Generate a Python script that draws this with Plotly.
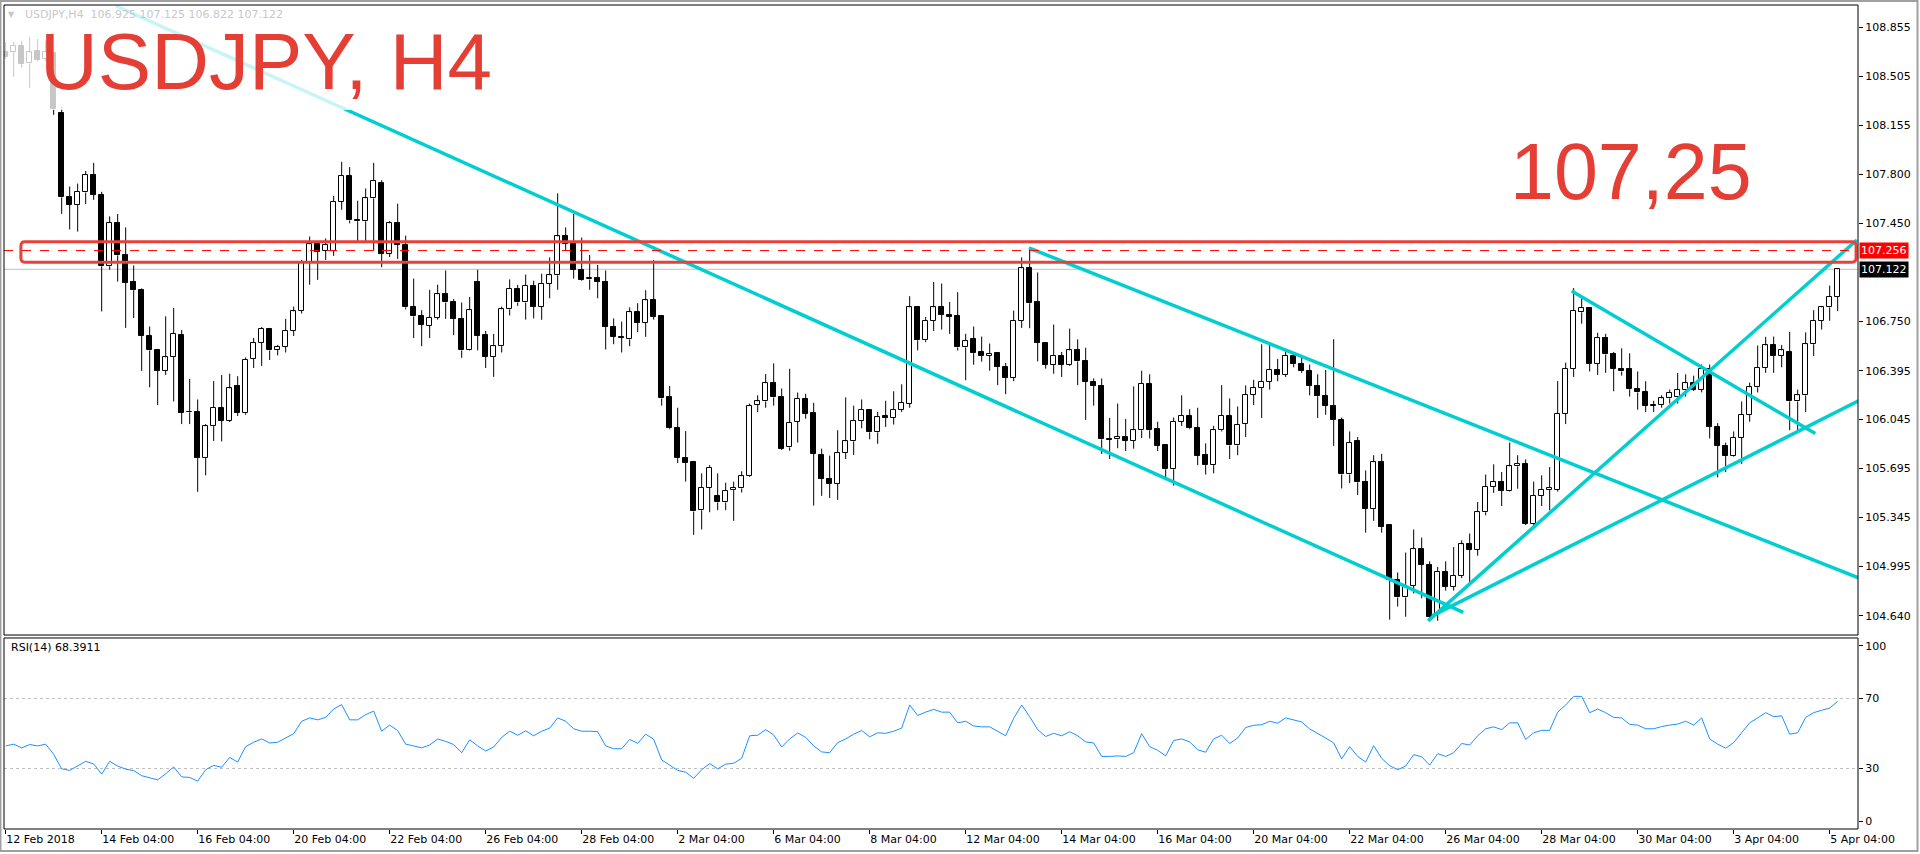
import plotly.graph_objects as go

# USDJPY H4, 12 Feb - 5 Apr 2018 (bar index 0..229)
opens = [
    108.680, 108.677, 108.720, 108.596, 108.685, 108.626, 108.669, 108.244, 107.642, 107.584,
    107.672, 107.798, 107.655, 107.143, 107.457, 107.222, 107.034, 106.972, 106.644, 106.541,
    106.395, 106.497, 106.653, 106.103, 106.100, 105.769, 105.998, 106.130, 106.036, 106.286,
    106.092, 106.480, 106.597, 106.697, 106.545, 106.566, 106.682, 106.826, 107.172, 107.301,
    107.255, 107.255, 107.604, 107.789, 107.475, 107.466, 107.630, 107.739, 107.231, 107.451,
    107.298, 106.849, 106.785, 106.717, 106.776, 106.943, 106.884, 106.767, 106.547, 107.031,
    106.650, 106.497, 106.571, 106.835, 106.981, 106.884, 107.005, 106.855, 107.020, 107.079,
    107.357, 107.304, 107.119, 107.049, 107.063, 107.034, 106.712, 106.640, 106.620, 106.814,
    106.737, 106.899, 106.785, 106.204, 105.983, 105.771, 105.740, 105.396, 105.558, 105.499,
    105.452, 105.540, 105.552, 105.640, 106.151, 106.175, 106.306, 106.204, 105.846, 106.028,
    106.195, 106.092, 105.793, 105.622, 105.587, 105.807, 105.889, 106.036, 106.116, 105.954,
    106.070, 106.057, 106.116, 106.160, 106.849, 106.614, 106.753, 106.849, 106.796, 106.785,
    106.562, 106.621, 106.526, 106.503, 106.521, 106.424, 106.344, 106.753, 107.129, 106.884,
    106.594, 106.438, 106.503, 106.438, 106.541, 106.462, 106.315, 106.286, 105.906, 105.904,
    105.921, 105.892, 105.969, 106.301, 105.978, 105.866, 105.690, 106.028, 106.071, 105.983,
    105.793, 105.719, 105.969, 106.071, 105.860, 106.013, 106.224, 106.271, 106.315, 106.400,
    106.365, 106.503, 106.444, 106.395, 106.286, 106.213, 106.145, 106.043, 105.652, 105.889,
    105.596, 105.405, 105.740, 105.288, 104.897, 104.771, 104.853, 105.117, 105.005, 104.654,
    104.956, 104.847, 104.926, 105.152, 105.112, 105.382, 105.564, 105.601, 105.537, 105.710,
    105.725, 105.299, 105.499, 105.543, 105.543, 106.087, 106.409, 106.814, 106.844, 106.444,
    106.629, 106.512, 106.409, 106.409, 106.263, 106.240, 106.145, 106.151, 106.197, 106.210,
    106.257, 106.306, 106.257, 106.409, 105.993, 105.857, 105.787, 105.916, 106.081, 106.277,
    106.415, 106.576, 106.503, 106.530, 106.175, 106.219, 106.585, 106.753, 106.849, 106.925,
]
highs = [
    108.750, 108.750, 108.758, 108.787, 108.772, 108.760, 108.675, 108.282, 107.715, 107.736,
    107.826, 107.884, 107.677, 107.501, 107.518, 107.422, 107.149, 106.985, 106.712, 106.545,
    106.785, 106.844, 106.687, 106.336, 106.189, 106.013, 106.321, 106.365, 106.374, 106.356,
    106.491, 106.630, 106.709, 106.702, 106.580, 106.767, 106.855, 107.189, 107.357, 107.310,
    107.343, 107.647, 107.892, 107.854, 107.613, 107.701, 107.884, 107.760, 107.468, 107.592,
    107.363, 107.055, 106.829, 106.975, 107.011, 107.114, 106.908, 106.884, 106.924, 107.119,
    106.680, 106.659, 106.855, 107.049, 107.010, 107.084, 107.040, 107.090, 107.207, 107.666,
    107.422, 107.518, 107.349, 107.225, 107.153, 107.114, 106.770, 106.747, 106.849, 106.879,
    106.972, 107.187, 106.790, 106.286, 106.130, 105.963, 105.740, 105.660, 105.719, 105.660,
    105.593, 105.601, 105.675, 106.160, 106.219, 106.371, 106.448, 106.268, 106.409, 106.239,
    106.230, 106.165, 105.837, 105.787, 105.969, 106.204, 106.145, 106.189, 106.120, 106.100,
    106.180, 106.248, 106.298, 106.929, 106.850, 106.780, 107.031, 107.020, 106.888, 106.958,
    106.660, 106.712, 106.640, 106.590, 106.530, 106.450, 106.826, 107.207, 107.275, 107.099,
    106.600, 106.726, 106.530, 106.697, 106.620, 106.560, 106.340, 106.340, 106.057, 106.160,
    106.050, 106.283, 106.395, 106.370, 106.030, 105.870, 106.060, 106.219, 106.120, 106.130,
    105.875, 106.000, 106.292, 106.197, 106.139, 106.290, 106.330, 106.585, 106.585, 106.480,
    106.541, 106.530, 106.490, 106.440, 106.370, 106.400, 106.621, 106.060, 105.960, 105.920,
    105.681, 105.790, 105.800, 105.290, 104.950, 105.093, 105.258, 105.200, 105.030, 104.990,
    105.030, 105.132, 105.180, 105.229, 105.455, 105.652, 105.725, 105.670, 105.881, 105.790,
    105.760, 105.601, 105.646, 105.705, 106.321, 106.453, 106.987, 106.914, 106.850, 106.667,
    106.660, 106.530, 106.556, 106.520, 106.390, 106.320, 106.180, 106.220, 106.260, 106.379,
    106.370, 106.360, 106.440, 106.440, 106.020, 105.880, 105.960, 106.175, 106.310, 106.576,
    106.638, 106.640, 106.580, 106.673, 106.260, 106.670, 106.829, 106.860, 107.005, 107.125,
]
lows = [
    108.630, 108.500, 108.567, 108.421, 108.611, 108.610, 108.228, 107.519, 107.407, 107.392,
    107.590, 107.619, 106.820, 107.119, 107.034, 106.702, 106.773, 106.394, 106.277, 106.150,
    106.365, 106.175, 106.013, 106.013, 105.528, 105.646, 105.892, 105.889, 106.028, 106.071,
    106.080, 106.415, 106.430, 106.472, 106.505, 106.526, 106.644, 106.805, 107.011, 107.046,
    107.189, 107.218, 107.548, 107.451, 107.319, 107.319, 107.255, 107.137, 107.210, 107.196,
    106.835, 106.629, 106.571, 106.629, 106.761, 106.767, 106.650, 106.488, 106.541, 106.541,
    106.415, 106.351, 106.526, 106.791, 106.860, 106.761, 106.770, 106.760, 106.914, 106.975,
    107.255, 107.055, 107.040, 106.975, 106.914, 106.547, 106.585, 106.526, 106.571, 106.673,
    106.638, 106.761, 106.145, 105.975, 105.734, 105.601, 105.220, 105.258, 105.382, 105.396,
    105.396, 105.320, 105.523, 105.635, 106.100, 106.130, 106.145, 105.828, 105.822, 105.881,
    106.051, 105.429, 105.499, 105.484, 105.470, 105.763, 105.792, 105.983, 105.904, 105.872,
    105.993, 106.010, 106.100, 106.130, 106.541, 106.600, 106.680, 106.690, 106.659, 106.540,
    106.327, 106.438, 106.460, 106.395, 106.292, 106.227, 106.320, 106.702, 106.700, 106.462,
    106.410, 106.374, 106.350, 106.430, 106.292, 106.043, 106.145, 105.799, 105.763, 105.840,
    105.820, 105.837, 105.913, 105.910, 105.820, 105.616, 105.572, 106.000, 105.975, 105.719,
    105.652, 105.660, 105.960, 105.763, 105.790, 105.920, 106.150, 106.057, 106.260, 106.320,
    106.350, 106.420, 106.380, 106.219, 106.057, 106.080, 105.857, 105.552, 105.590, 105.505,
    105.235, 105.320, 105.235, 104.612, 104.706, 104.633, 104.800, 104.765, 104.610, 104.604,
    104.820, 104.820, 104.910, 104.882, 105.070, 105.360, 105.520, 105.426, 105.530, 105.550,
    105.290, 105.290, 105.426, 105.396, 105.530, 106.013, 106.350, 106.732, 106.390, 106.365,
    106.380, 106.248, 106.360, 106.210, 106.116, 106.100, 106.100, 106.130, 106.160, 106.160,
    106.210, 106.250, 106.240, 105.910, 105.631, 105.669, 105.780, 105.728, 106.030, 106.240,
    106.380, 106.380, 106.420, 105.969, 105.970, 106.100, 106.500, 106.690, 106.753, 106.822,
]
closes = [
    108.640, 108.722, 108.591, 108.675, 108.623, 108.675, 108.273, 107.637, 107.584, 107.677,
    107.798, 107.655, 107.143, 107.457, 107.222, 107.026, 106.972, 106.644, 106.541, 106.395,
    106.491, 106.659, 106.092, 106.098, 105.769, 105.998, 106.130, 106.036, 106.268, 106.092,
    106.474, 106.597, 106.697, 106.541, 106.566, 106.682, 106.820, 107.172, 107.301, 107.249,
    107.298, 107.604, 107.789, 107.472, 107.466, 107.630, 107.754, 107.231, 107.451, 107.298,
    106.849, 106.785, 106.726, 106.776, 106.943, 106.884, 106.767, 106.541, 106.829, 106.644,
    106.497, 106.571, 106.835, 106.981, 106.884, 107.005, 106.855, 107.020, 107.079, 107.357,
    107.304, 107.119, 107.046, 107.063, 107.034, 106.709, 106.638, 106.630, 106.814, 106.737,
    106.899, 106.782, 106.197, 105.983, 105.769, 105.734, 105.387, 105.558, 105.699, 105.452,
    105.534, 105.558, 105.640, 106.145, 106.175, 106.306, 106.204, 105.837, 106.021, 106.195,
    106.087, 105.799, 105.622, 105.587, 105.807, 105.889, 106.036, 106.116, 105.954, 106.063,
    106.057, 106.116, 106.165, 106.849, 106.614, 106.753, 106.849, 106.796, 106.782, 106.562,
    106.609, 106.521, 106.503, 106.518, 106.424, 106.344, 106.753, 107.129, 106.879, 106.594,
    106.438, 106.503, 106.438, 106.541, 106.462, 106.315, 106.286, 105.904, 105.902, 105.921,
    105.892, 105.969, 106.301, 105.969, 105.857, 105.690, 106.028, 106.071, 105.983, 105.787,
    105.719, 105.969, 106.071, 105.860, 106.007, 106.224, 106.271, 106.315, 106.400, 106.365,
    106.503, 106.444, 106.395, 106.286, 106.213, 106.145, 106.043, 105.652, 105.881, 105.596,
    105.405, 105.740, 105.279, 104.897, 104.771, 104.847, 105.117, 105.005, 104.633, 104.956,
    104.847, 104.926, 105.152, 105.112, 105.382, 105.564, 105.601, 105.537, 105.710, 105.727,
    105.299, 105.499, 105.543, 105.555, 106.087, 106.409, 106.826, 106.844, 106.444, 106.629,
    106.512, 106.409, 106.390, 106.263, 106.240, 106.145, 106.150, 106.197, 106.239, 106.257,
    106.306, 106.257, 106.409, 105.993, 105.857, 105.787, 105.916, 106.081, 106.277, 106.415,
    106.576, 106.503, 106.541, 106.175, 106.219, 106.585, 106.753, 106.849, 106.923, 107.122,
]

rsi = [
    42.9, 43.9, 41.8, 43.7, 42.9, 43.9, 38.1, 29.8, 28.9, 31.4,
    34.1, 32.6, 26.8, 34.1, 31.4, 29.6, 28.8, 25.9, 24.9, 23.5,
    27.0, 30.9, 25.2, 24.9, 22.8, 29.3, 31.8, 30.7, 36.3, 33.7,
    42.5, 45.0, 46.9, 44.6, 45.0, 47.3, 49.9, 57.0, 58.9, 57.8,
    59.2, 64.0, 66.5, 57.8, 57.8, 60.8, 62.8, 51.3, 54.8, 51.7,
    43.9, 42.9, 41.8, 43.4, 46.9, 45.5, 43.7, 39.0, 46.4, 42.9,
    40.0, 42.3, 47.8, 51.3, 49.0, 51.5, 48.7, 51.3, 53.1, 58.9,
    57.0, 52.7, 51.3, 51.3, 51.0, 42.9, 41.3, 41.3, 46.6, 44.4,
    49.6, 46.7, 34.9, 31.9, 28.9, 27.9, 24.4, 29.3, 32.8, 29.8,
    32.5, 33.0, 35.8, 48.7, 49.0, 52.2, 49.2, 42.3, 46.9, 50.3,
    47.8, 42.9, 39.5, 39.0, 44.8, 46.9, 49.6, 51.7, 48.1, 50.4,
    50.1, 51.3, 53.1, 66.3, 60.3, 62.2, 63.8, 62.2, 62.2, 56.1,
    57.0, 54.3, 53.8, 53.8, 51.3, 48.7, 58.7, 66.3, 59.6, 52.2,
    48.3, 50.1, 48.7, 51.0, 48.7, 45.2, 44.6, 36.9, 36.9, 37.2,
    36.9, 39.0, 49.9, 42.5, 40.4, 37.2, 46.0, 46.9, 45.2, 40.7,
    39.3, 46.9, 49.0, 44.3, 47.4, 53.4, 54.7, 55.0, 57.0, 55.9,
    58.9, 57.7, 56.6, 52.6, 50.1, 47.4, 44.6, 35.5, 42.5, 36.9,
    33.7, 43.0, 35.8, 31.6, 29.3, 31.4, 37.9, 36.7, 31.9, 38.5,
    36.9, 39.0, 44.3, 43.4, 48.7, 52.7, 53.8, 52.2, 56.1, 56.1,
    46.6, 50.4, 51.8, 51.8, 62.2, 66.3, 71.2, 71.2, 61.9, 64.0,
    61.9, 59.2, 58.9, 55.2, 54.8, 52.7, 52.7, 54.0, 54.8, 55.4,
    57.0, 54.8, 58.9, 46.9, 43.9, 41.6, 44.8, 50.4, 56.1, 58.9,
    61.9, 59.6, 60.1, 49.6, 50.4, 59.2, 61.9, 63.3, 64.5, 68.4,
]

date_ticks = [0, 12, 24, 36, 48, 60, 72, 84, 96, 108, 120, 132, 144, 156, 168, 180, 192, 204, 216, 228]
date_labels = ["12 Feb 2018", "14 Feb 04:00", "16 Feb 04:00", "20 Feb 04:00", "22 Feb 04:00",
               "26 Feb 04:00", "28 Feb 04:00", "2 Mar 04:00", "6 Mar 04:00", "8 Mar 04:00",
               "12 Mar 04:00", "14 Mar 04:00", "16 Mar 04:00", "20 Mar 04:00", "22 Mar 04:00",
               "26 Mar 04:00", "28 Mar 04:00", "30 Mar 04:00", "3 Apr 04:00", "5 Apr 04:00"]
price_ticks = [108.855, 108.505, 108.155, 107.800, 107.450, 106.750, 106.395,
               106.045, 105.695, 105.345, 104.995, 104.640]

# drawn objects: trend lines (bar index, price)
trend_lines = [
    ((13.8, 109.008), (182.2, 104.664)),
    ((127.9, 107.275), (231.6, 104.911)),
    ((177.8, 104.603), (231.4, 107.332)),
    ((178.3, 104.639), (231.6, 106.179)),
    ((195.75, 106.967), (226.2, 105.945)),
]
zone_top, zone_bottom = 107.319, 107.172
zone_left, zone_right = 1.9, 231.3
level_line = 107.256
bid_line = 107.122

n = len(opens)
idx = list(range(n))
body_lo = [min(o, c) for o, c in zip(opens, closes)]
body_hi = [max(o, c) for o, c in zip(opens, closes)]
body_h = [h - l for h, l in zip(body_hi, body_lo)]
body_col = ["white" if c >= o else "black" for o, c in zip(opens, closes)]

wx, wy = [], []
for i in idx:
    wx += [i, i, None, i, i, None]
    wy += [highs[i], body_hi[i], None, body_lo[i], lows[i], None]

font = "DejaVu Sans"
fig = go.Figure()
fig.add_trace(go.Scatter(x=wx, y=wy, mode="lines", line=dict(color="black", width=1),
                         hoverinfo="skip", showlegend=False))
fig.add_trace(go.Bar(x=idx, y=body_h, base=body_lo, width=0.6,
                     marker=dict(color=body_col, line=dict(color="black", width=1)),
                     showlegend=False))
fig.add_trace(go.Scatter(x=idx, y=rsi, yaxis="y2", mode="lines",
                         line=dict(color="#1E90FF", width=1), showlegend=False))

shapes = []
# bid line, under candles
shapes.append(dict(type="line", xref="x domain", x0=0, x1=1, yref="y", y0=bid_line, y1=bid_line,
                   line=dict(color="#C0C0C0", width=1), layer="below"))
for (x0, y0), (x1, y1) in trend_lines:
    shapes.append(dict(type="line", xref="x", yref="y", x0=x0, y0=y0, x1=x1, y1=y1,
                       line=dict(color="#00CED1", width=3.5), layer="above"))
shapes.append(dict(type="line", xref="x domain", x0=0, x1=1, yref="y", y0=level_line, y1=level_line,
                   line=dict(color="#FF0000", width=1, dash="dash"), layer="above"))
rx, ry = 0.5, 0.03
p = (f"M {zone_left + rx},{zone_top} L {zone_right - rx},{zone_top} "
     f"Q {zone_right},{zone_top} {zone_right},{zone_top - ry} L {zone_right},{zone_bottom + ry} "
     f"Q {zone_right},{zone_bottom} {zone_right - rx},{zone_bottom} L {zone_left + rx},{zone_bottom} "
     f"Q {zone_left},{zone_bottom} {zone_left},{zone_bottom + ry} L {zone_left},{zone_top - ry} "
     f"Q {zone_left},{zone_top} {zone_left + rx},{zone_top} Z")
shapes.append(dict(type="path", xref="x", yref="y", path=p,
                   line=dict(color="#E8403A", width=3), layer="above"))
# faded area behind the title label
shapes.append(dict(type="rect", xref="x", yref="y", x0=-1, x1=43.6, y0=108.263, y1=109.2,
                   fillcolor="rgba(255,255,255,0.78)", line=dict(width=0), layer="above"))
# RSI levels
for lv in (70, 30):
    shapes.append(dict(type="line", xref="x domain", x0=0, x1=1, yref="y2", y0=lv, y1=lv,
                       line=dict(color="#C0C0C0", width=1, dash="dot"), layer="below"))
# panel frames
shapes.append(dict(type="rect", xref="x domain", yref="y domain", x0=0, x1=1, y0=0, y1=1,
                   line=dict(color="black", width=1), layer="above"))
shapes.append(dict(type="rect", xref="x domain", yref="y2 domain", x0=0, x1=1, y0=0, y1=1,
                   line=dict(color="black", width=1), layer="above"))
shapes.append(dict(type="rect", xref="paper", yref="paper", x0=-0.0019, x1=1.0321, y0=-0.0267, y1=1.0049,
                   line=dict(color="#A0A0A0", width=2), layer="above"))

red = "#E53E35"
annotations = [
    dict(text="USDJPY, H4", xref="paper", yref="paper", x=0.0185, y=0.932, xanchor="left", yanchor="middle",
         showarrow=False, font=dict(family="Liberation Sans", size=80, color=red)),
    dict(text="107,25", xref="paper", yref="paper", x=0.8112, y=0.7977, xanchor="left", yanchor="middle",
         showarrow=False, font=dict(family="Liberation Sans", size=79, color=red)),
    dict(text="▼", xref="paper", yref="paper", x=0.0043, y=0.989, xanchor="center", yanchor="middle",
         showarrow=False, font=dict(family=font, size=8, color="#C8C8C8")),
    dict(text="USDJPY,H4  106.925 107.125 106.822 107.122", xref="paper", yref="paper", x=0.0102, y=0.989,
         xanchor="left", yanchor="middle", showarrow=False, font=dict(family=font, size=11, color="#C8C8C8")),
    dict(text="RSI(14) 68.3911", xref="paper", yref="paper", x=0.0027, y=0.2197, xanchor="left",
         yanchor="middle", showarrow=False, font=dict(family=font, size=11, color="black")),
    dict(text="107.256", xref="paper", yref="y", x=1.0003, y=level_line, xanchor="left", yanchor="middle",
         showarrow=False, bgcolor="#FF0000", borderpad=1, font=dict(family=font, size=11, color="white")),
    dict(text="107.122", xref="paper", yref="y", x=1.0003, y=bid_line, xanchor="left", yanchor="middle",
         showarrow=False, bgcolor="black", borderpad=1, font=dict(family=font, size=11, color="white")),
]

fig.update_layout(
    width=1920, height=854,
    margin=dict(l=4, r=62, t=5, b=25),
    paper_bgcolor="white", plot_bgcolor="white",
    font=dict(family=font, size=11, color="black"),
    barmode="overlay", bargap=0, showlegend=False, hovermode=False,
    xaxis=dict(range=[-0.21, 231.54], anchor="y2", tickvals=date_ticks, ticktext=date_labels,
               ticks="outside", ticklen=4, tickcolor="black", showgrid=False, zeroline=False,
               ticklabelposition="outside right", showline=False, fixedrange=True),
    yaxis=dict(domain=[0.2354, 1], range=[104.502, 109.015], side="right", anchor="x",
               tickvals=price_ticks, ticktext=[f"{v:.3f}" for v in price_ticks],
               ticks="outside", ticklen=4, tickcolor="black", showgrid=False, zeroline=False,
               fixedrange=True),
    yaxis2=dict(domain=[0, 0.2318], range=[-4.57, 104.57], side="right", anchor="x",
                tickvals=[100, 70, 30, 0], ticks="outside", ticklen=4, tickcolor="black",
                showgrid=False, zeroline=False, fixedrange=True),
    shapes=shapes,
    annotations=annotations,
)

fig.write_html("out.html", config={"displayModeBar": False},
               post_script="document.body.style.margin='0';")
